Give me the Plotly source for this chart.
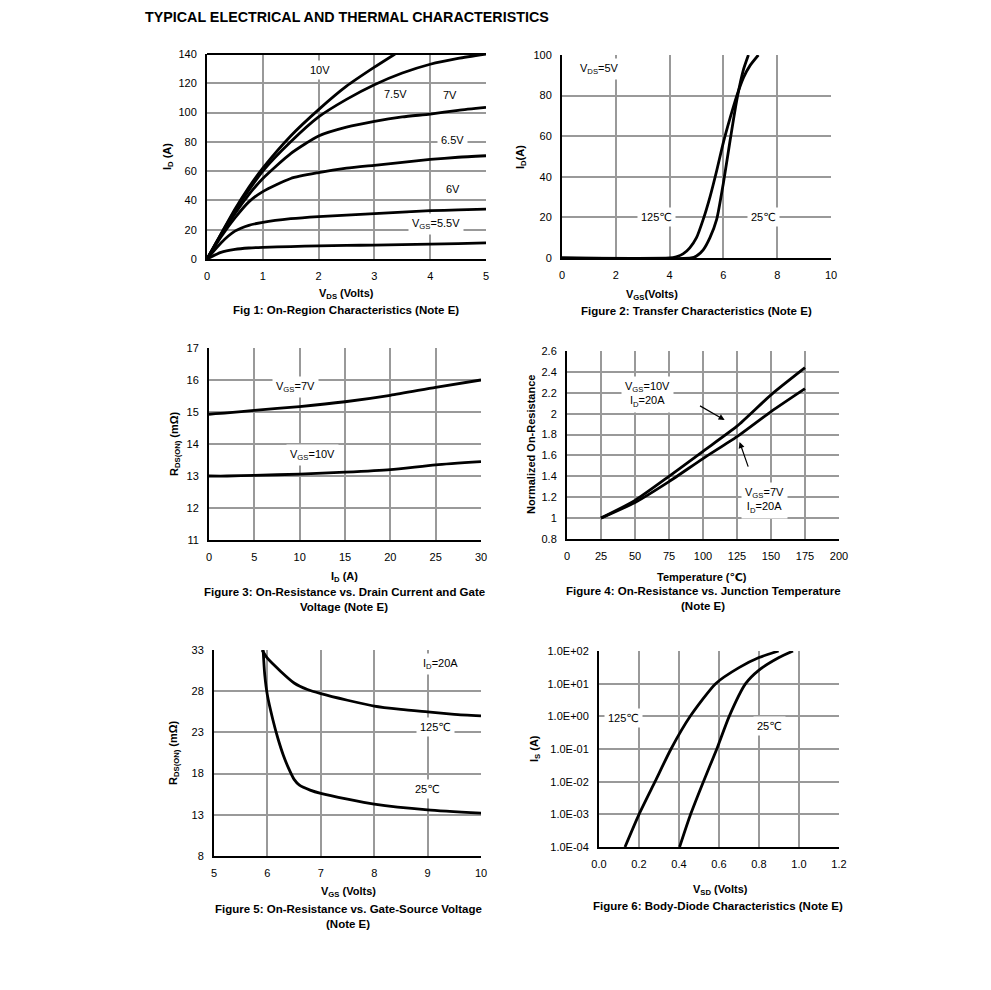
import plotly.graph_objects as go

W, H = 991, 990
FONT = "Liberation Sans, Arial, DejaVu Sans, sans-serif"

# ---------------- Data ----------------
# Fig 1: On-region characteristics, VDS (V) vs ID (A)
f1_vds = [0, 0.25, 0.5, 0.75, 1, 1.5, 2, 2.5, 3, 3.5, 4, 4.5, 5]
f1_10v_x = [0, 0.25, 0.5, 0.75, 1, 1.5, 2, 2.5, 3, 3.37]
f1_10v = [0, 17, 34, 49, 62, 84, 102, 118, 131, 140]
f1_75v = [0, 17, 33, 47, 60, 80, 97, 109, 119, 127, 133, 137, 140]
f1_7v = [0, 16, 31, 44, 55, 72, 84, 90, 94, 97, 99, 101.5, 103.5]
f1_65v = [0, 15, 28, 39, 46, 55, 59, 62, 64, 66, 68, 69.5, 70.5]
f1_6v = [0, 11, 19, 23, 25, 27.5, 29, 30, 31, 32, 33, 33.5, 34]
f1_55v = [0, 4.5, 6.5, 7.5, 8, 8.5, 9, 9.3, 9.5, 9.8, 10.1, 10.5, 11]

# Fig 2: Transfer characteristics, VGS (V) vs ID (A)
f2_125_x = [0, 4.0, 4.25, 4.5, 4.75, 5.0, 5.25, 5.5, 5.75, 6.0, 6.25, 6.5, 6.75, 7.0, 7.3]
f2_125 = [0, 0, 0.6, 2, 5, 10, 19, 30, 43, 57, 69, 80, 89, 95, 100]
f2_25_x = [0, 4.8, 5.0, 5.25, 5.5, 5.75, 6.0, 6.25, 6.5, 6.75, 6.93]
f2_25 = [0, 0, 1, 4, 10, 19, 37, 58, 78, 93, 100]

# Fig 3: RDS(ON) (mOhm) vs ID (A)
f3_id = [0, 2, 5, 10, 15, 20, 25, 30]
f3_7v = [14.93, 14.97, 15.05, 15.17, 15.32, 15.52, 15.77, 16.0]
f3_10v = [13.0, 13.0, 13.02, 13.06, 13.12, 13.2, 13.35, 13.45]

# Fig 4: Normalized on-resistance vs temperature (C)
f4_t = [25, 50, 75, 100, 125, 150, 175]
f4_10v = [1.0, 1.17, 1.40, 1.64, 1.88, 2.18, 2.44]
f4_7v = [1.0, 1.15, 1.35, 1.57, 1.78, 2.02, 2.24]

# Fig 5: RDS(ON) (mOhm) vs VGS (V)
f5_125_x = [5.9, 6.0, 6.25, 6.5, 6.75, 7.0, 7.5, 8.0, 8.5, 9.0, 9.5, 10.0]
f5_125 = [33, 32.0, 30.4, 29.0, 28.2, 27.7, 26.9, 26.2, 25.8, 25.5, 25.2, 25.0]
f5_25_x = [5.92, 5.95, 6.0, 6.1, 6.2, 6.3, 6.4, 6.5, 6.6, 6.8, 7.0, 7.5, 8.0, 9.0, 10.0]
f5_25 = [33, 30, 27.5, 24.6, 22.2, 20.2, 18.6, 17.3, 16.6, 16.0, 15.6, 14.9, 14.3, 13.6, 13.2]

# Fig 6: Body diode IS (A) vs VSD (V)
f6_125_x = [0.13, 0.2, 0.28, 0.36, 0.456, 0.583, 0.7, 0.8, 0.898]
f6_125 = [1e-4, 1e-3, 1e-2, 1e-1, 1e0, 1e1, 31, 63, 100]
f6_25_x = [0.403, 0.458, 0.522, 0.589, 0.651, 0.733, 0.8, 0.9, 0.97]
f6_25 = [1e-4, 1e-3, 1e-2, 1e-1, 1e0, 1e1, 26, 63, 100]
f6_tickvals = [1e-4, 1e-3, 1e-2, 1e-1, 1e0, 1e1, 1e2]
f6_ticktext = ["1.0E-04", "1.0E-03", "1.0E-02", "1.0E-01", "1.0E+00", "1.0E+01", "1.0E+02"]

# ---------------- Layout helpers ----------------
OFF = 8  # page body margin offset

def xp(px):
    return (px - OFF) / W

def yp(py):
    return 1 - (py - OFF) / H

boxes = {
    1: (207, 486, 54, 259),
    2: (562, 831, 55, 258),
    3: (209, 481, 348, 540),
    4: (567, 839, 351, 539),
    5: (214, 481, 650, 856),
    6: (599, 839, 651, 847),
}

fig = go.Figure()
LW = 2.8
line = dict(color="black", width=LW, shape="spline", smoothing=0.6)

def add(n, x, y):
    fig.add_trace(go.Scatter(x=x, y=y, mode="lines", line=line,
                             xaxis="x" if n == 1 else f"x{n}",
                             yaxis="y" if n == 1 else f"y{n}",
                             showlegend=False, hoverinfo="skip"))

add(1, f1_10v_x, f1_10v)
add(1, f1_vds, f1_75v)
add(1, f1_vds, f1_7v)
add(1, f1_vds, f1_65v)
add(1, f1_vds, f1_6v)
add(1, f1_vds, f1_55v)
add(2, f2_125_x, f2_125)
add(2, f2_25_x, f2_25)
add(3, f3_id, f3_7v)
add(3, f3_id, f3_10v)
add(4, f4_t, f4_10v)
add(4, f4_t, f4_7v)
add(5, f5_125_x, f5_125)
add(5, f5_25_x, f5_25)
add(6, f6_125_x, f6_125)
add(6, f6_25_x, f6_25)

axis_common = dict(showgrid=True, gridcolor="#999999", gridwidth=1.8,
                   showline=True, linecolor="black", linewidth=2,
                   zeroline=False, ticks="", ticklabelstandoff=6,
                   automargin=False,
                   tickfont=dict(family=FONT, size=11, color="black"),
                   fixedrange=True)

ranges = {
    1: ([0, 5], 1, None, [0, 140], 20, None),
    2: ([0, 10], 2, None, [0, 100], 20, None),
    3: ([0, 30], 5, None, [11, 17], 1, None),
    4: ([0, 200], 25, None, [0.8, 2.6], 0.2, None),
    5: ([5, 10], 1, None, [8, 33], 5, 8),
}

layout = dict(width=W, height=H,
              margin=dict(l=0, r=0, t=0, b=0, pad=0, autoexpand=False),
              paper_bgcolor="white", plot_bgcolor="white", showlegend=False,
              font=dict(family=FONT, size=11, color="black"))

for n, (x0, x1, y0, y1) in boxes.items():
    xs = "xaxis" if n == 1 else f"xaxis{n}"
    ys = "yaxis" if n == 1 else f"yaxis{n}"
    xa = dict(axis_common, domain=[xp(x0), xp(x1)], anchor="y" if n == 1 else f"y{n}")
    ya = dict(axis_common, domain=[yp(y1), yp(y0)], anchor="x" if n == 1 else f"x{n}")
    if n in ranges:
        xr, xd, _, yr, yd, yt0 = ranges[n]
        xa.update(range=xr, dtick=xd, tick0=xr[0])
        ya.update(range=yr, dtick=yd, tick0=yt0 if yt0 is not None else yr[0])
    else:
        xa.update(range=[0, 1.2], dtick=0.2, tick0=0, tickformat=".1f")
        ya.update(type="log", range=[-4, 2], tickvals=f6_tickvals, ticktext=f6_ticktext)
    layout[xs] = xa
    layout[ys] = ya

# black top border on Fig 1
layout["shapes"] = [dict(type="line", xref="x domain", yref="y domain",
                         x0=0, x1=1, y0=1, y1=1,
                         line=dict(color="black", width=1.8))]

fig.update_layout(**layout)

ann = []

def paper_text(text, px, py, bold=True, size=11.5, angle=0, xanchor="center"):
    ann.append(dict(text=f"<b>{text}</b>" if bold else text, x=xp(px), y=yp(py),
                    xref="paper", yref="paper", showarrow=False, textangle=angle,
                    xanchor=xanchor, yanchor="middle",
                    font=dict(family=FONT, size=size, color="black")))

def data_text(n, text, x, y, xanchor="center"):
    ann.append(dict(text=text, x=x, y=y,
                    xref="x" if n == 1 else f"x{n}", yref="y" if n == 1 else f"y{n}",
                    showarrow=False, xanchor=xanchor, yanchor="middle",
                    bgcolor="white", borderpad=3,
                    font=dict(family=FONT, size=11, color="black")))

# Title
paper_text("TYPICAL ELECTRICAL AND THERMAL CHARACTERISTICS", 143, 17, size=14.3, xanchor="left")

# Axis titles and captions
paper_text("I<sub>D</sub> (A)", 168, 157, angle=-90, size=11)
paper_text("V<sub>DS</sub> (Volts)", 346, 294, size=11)
paper_text("Fig 1: On-Region Characteristics (Note E)", 346, 310)

paper_text("I<sub>D</sub>(A)", 521, 157, angle=-90, size=11)
paper_text("V<sub>GS</sub>(Volts)", 652, 295, size=11)
paper_text("Figure 2: Transfer Characteristics (Note E)", 696, 311)

paper_text("R<sub>DS(ON)</sub> (mΩ)", 175, 444, angle=-90, size=11)
paper_text("I<sub>D</sub> (A)", 344, 577, size=11)
paper_text("Figure 3: On-Resistance vs. Drain Current and Gate", 344, 592)
paper_text("Voltage (Note E)", 344, 607)

paper_text("Normalized On-Resistance", 531, 445, angle=-90, size=11)
paper_text("Temperature (℃)", 702, 577, size=11)
paper_text("Figure 4: On-Resistance vs. Junction Temperature", 703, 591)
paper_text("(Note E)", 703, 606)

paper_text("R<sub>DS(ON)</sub> (mΩ)", 174, 753, angle=-90, size=11)
paper_text("V<sub>GS</sub> (Volts)", 348, 892, size=11)
paper_text("Figure 5: On-Resistance vs. Gate-Source Voltage", 348, 909)
paper_text("(Note E)", 348, 924)

paper_text("I<sub>S</sub> (A)", 535, 749, angle=-90, size=11)
paper_text("V<sub>SD</sub> (Volts)", 720, 890, size=11)
paper_text("Figure 6: Body-Diode Characteristics (Note E)", 718, 906)

# In-plot labels
data_text(1, "10V", 2.02, 129)
data_text(1, "7.5V", 3.38, 113)
data_text(1, "7V", 4.35, 112)
data_text(1, "6.5V", 4.4, 81)
data_text(1, "6V", 4.4, 47.5)
data_text(1, "V<sub>GS</sub>=5.5V", 4.1, 24)

data_text(2, "V<sub>DS</sub>=5V", 1.4, 93)
data_text(2, "125℃", 3.5, 20)
data_text(2, "25℃", 7.5, 20)

data_text(3, "V<sub>GS</sub>=7V", 9.5, 15.78)
data_text(3, "V<sub>GS</sub>=10V", 11.4, 13.66)

data_text(4, "V<sub>GS</sub>=10V<br>I<sub>D</sub>=20A", 40, 2.18, xanchor="left")
data_text(4, "V<sub>GS</sub>=7V<br>I<sub>D</sub>=20A", 128, 1.17, xanchor="left")

data_text(5, "I<sub>D</sub>=20A", 9.25, 31.3)
data_text(5, "125℃", 9.14, 23.7)
data_text(5, "25℃", 9.0, 16.1)

# log axis: annotation y given as log10 of the value
data_text(6, "125℃", 0.12, -0.06)
data_text(6, "25℃", 0.85, -0.29)

# Arrows in fig 4
for (hx, hy, tx, ty) in [(115.9, 1.94, 96.7, 2.083), (126.9, 1.728, 133.6, 1.479)]:
    ann.append(dict(x=hx, y=hy, ax=tx, ay=ty, xref="x4", yref="y4", axref="x4", ayref="y4",
                    showarrow=True, arrowhead=2, arrowsize=1, arrowwidth=1.2,
                    arrowcolor="black", text=""))

fig.update_layout(annotations=ann)
fig.write_html("out.html")
